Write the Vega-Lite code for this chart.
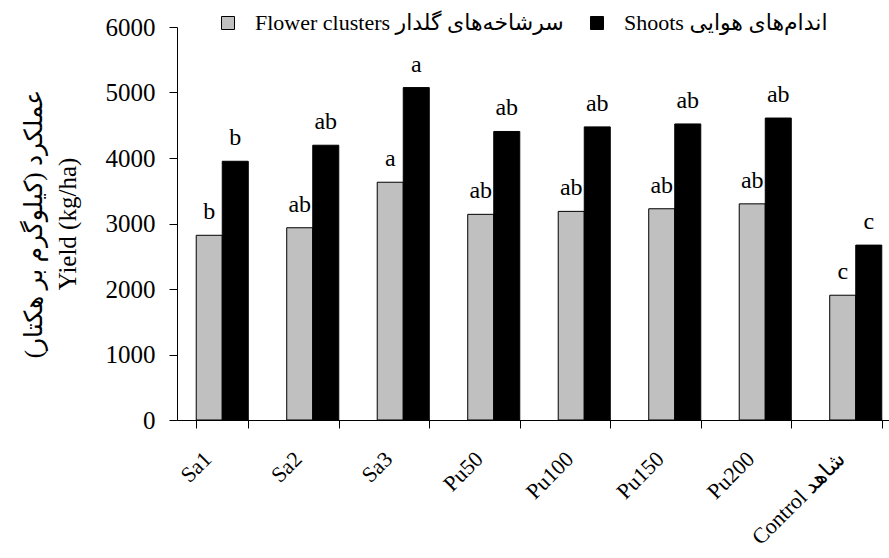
{
  "$schema": "https://vega.github.io/schema/vega-lite/v6.json",
  "width": 712,
  "height": 393,
  "autosize": {"type": "none"},
  "padding": {"left": 177, "top": 27, "right": 0, "bottom": 138},
  "background": "white",
  "config": {"view": {"stroke": null}, "font": "Liberation Serif"},
  "data": {
    "values": [
      {"treatment": "Sa1", "series": "Flower clusters سرشاخه‌های گلدار", "value": 2820, "letter": "b"},
      {"treatment": "Sa1", "series": "Shoots اندام‌های هوایی", "value": 3950, "letter": "b"},
      {"treatment": "Sa2", "series": "Flower clusters سرشاخه‌های گلدار", "value": 2935, "letter": "ab"},
      {"treatment": "Sa2", "series": "Shoots اندام‌های هوایی", "value": 4195, "letter": "ab"},
      {"treatment": "Sa3", "series": "Flower clusters سرشاخه‌های گلدار", "value": 3630, "letter": "a"},
      {"treatment": "Sa3", "series": "Shoots اندام‌های هوایی", "value": 5075, "letter": "a"},
      {"treatment": "Pu50", "series": "Flower clusters سرشاخه‌های گلدار", "value": 3140, "letter": "ab"},
      {"treatment": "Pu50", "series": "Shoots اندام‌های هوایی", "value": 4405, "letter": "ab"},
      {"treatment": "Pu100", "series": "Flower clusters سرشاخه‌های گلدار", "value": 3185, "letter": "ab"},
      {"treatment": "Pu100", "series": "Shoots اندام‌های هوایی", "value": 4475, "letter": "ab"},
      {"treatment": "Pu150", "series": "Flower clusters سرشاخه‌های گلدار", "value": 3225, "letter": "ab"},
      {"treatment": "Pu150", "series": "Shoots اندام‌های هوایی", "value": 4520, "letter": "ab"},
      {"treatment": "Pu200", "series": "Flower clusters سرشاخه‌های گلدار", "value": 3300, "letter": "ab"},
      {"treatment": "Pu200", "series": "Shoots اندام‌های هوایی", "value": 4610, "letter": "ab"},
      {"treatment": "Control شاهد", "series": "Flower clusters سرشاخه‌های گلدار", "value": 1905, "letter": "c"},
      {"treatment": "Control شاهد", "series": "Shoots اندام‌های هوایی", "value": 2670, "letter": "c"}
    ]
  },
  "encoding": {
    "x": {
      "field": "treatment",
      "type": "nominal",
      "sort": ["Sa1", "Sa2", "Sa3", "Pu50", "Pu100", "Pu150", "Pu200", "Control شاهد"],
      "scale": {"range": [0, 724], "paddingInner": 0.425, "paddingOuter": 0.2125},
      "axis": {
        "title": null,
        "tickBand": "extent",
        "tickSize": 8,
        "tickColor": "black",
        "domainColor": "black",
        "labelAngle": -45,
        "labelAlign": "right",
        "labelBaseline": "top",
        "labelOffset": -22,
        "labelPadding": 20,
        "labelFontSize": 22,
        "labelColor": "black",
        "labelFont": "Liberation Serif, DejaVu Sans",
        "labelOverlap": false,
        "labelLimit": 0
      }
    },
    "xOffset": {
      "field": "series",
      "sort": ["Flower clusters سرشاخه‌های گلدار", "Shoots اندام‌های هوایی"],
      "scale": {"paddingInner": 0, "paddingOuter": 0}
    },
    "y": {
      "field": "value",
      "type": "quantitative",
      "scale": {"domain": [0, 6000], "nice": false},
      "axis": {
        "values": [0, 1000, 2000, 3000, 4000, 5000, 6000],
        "format": "d",
        "grid": false,
        "tickSize": 8,
        "tickColor": "black",
        "domainColor": "black",
        "labelFontSize": 25,
        "labelPadding": 14,
        "labelColor": "black",
        "labelFont": "Liberation Serif",
        "title": ["\u200fعملکرد (کیلوگرم بر هکتار)\u200f", "Yield (kg/ha)"],
        "titleFont": "Liberation Serif, DejaVu Sans",
        "titleFontSize": 25,
        "titleFontWeight": "normal",
        "titleColor": "black",
        "titleLineHeight": 34,
        "titlePadding": 25
      }
    }
  },
  "layer": [
    {
      "mark": {"type": "bar", "stroke": "black", "strokeWidth": 1},
      "encoding": {
        "fill": {
          "field": "series",
          "type": "nominal",
          "scale": {
            "domain": ["Flower clusters سرشاخه‌های گلدار", "Shoots اندام‌های هوایی"],
            "range": ["#c0c0c0", "#000000"]
          },
          "legend": {
            "title": null,
            "orient": "none",
            "legendX": 40,
            "legendY": -15,
            "direction": "horizontal",
            "symbolType": "square",
            "symbolSize": 169,
            "symbolStrokeColor": "black",
            "symbolStrokeWidth": 1,
            "labelFontSize": 22,
            "labelFont": "Liberation Serif, DejaVu Sans",
            "labelColor": "black",
            "labelLimit": 0,
            "labelOffset": 16,
            "columnPadding": 22
          }
        }
      }
    },
    {
      "mark": {"type": "text", "dy": -16, "baseline": "alphabetic", "fontSize": 24, "font": "Liberation Serif", "color": "black"},
      "encoding": {"text": {"field": "letter"}}
    }
  ]
}
